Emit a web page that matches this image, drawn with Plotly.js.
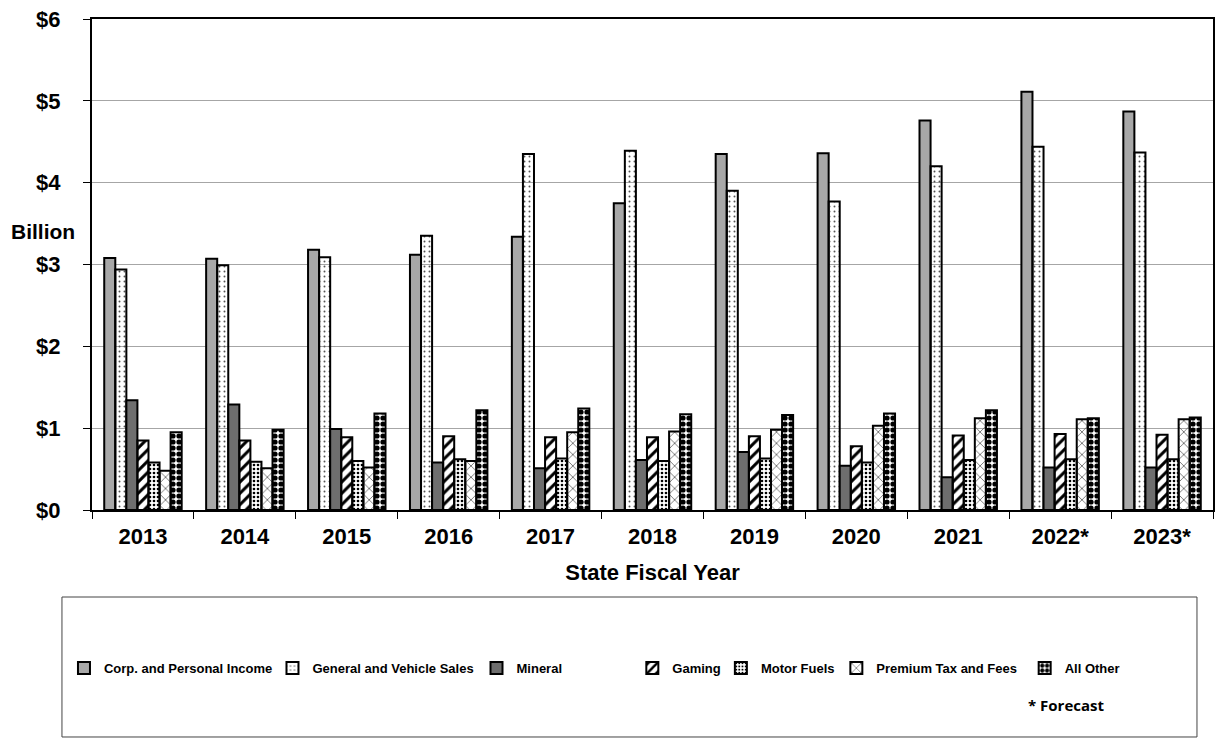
<!DOCTYPE html>
<html>
<head>
<meta charset="utf-8">
<script src="https://cdn.plot.ly/plotly-3.0.1.min.js"></script>
<style>html,body{margin:0;padding:0;background:#fff;}#chart{width:1217px;height:740px;}</style>
</head>
<body>
<div id="chart"></div>
<script>
const years = ["2013","2014","2015","2016","2017","2018","2019","2020","2021","2022*","2023*"];
const corpIncome   = [3.08, 3.07, 3.18, 3.12, 3.34, 3.75, 4.35, 4.36, 4.76, 5.11, 4.87];
const salesTax     = [2.94, 2.99, 3.09, 3.35, 4.35, 4.39, 3.90, 3.77, 4.20, 4.44, 4.37];
const mineral      = [1.34, 1.29, 0.99, 0.58, 0.51, 0.61, 0.71, 0.54, 0.40, 0.52, 0.52];
const gaming       = [0.85, 0.85, 0.89, 0.90, 0.89, 0.89, 0.90, 0.78, 0.91, 0.93, 0.92];
const motorFuels   = [0.58, 0.59, 0.60, 0.62, 0.63, 0.60, 0.63, 0.58, 0.61, 0.62, 0.62];
const premiumTax   = [0.48, 0.51, 0.52, 0.60, 0.95, 0.96, 0.98, 1.03, 1.12, 1.11, 1.11];
const allOther     = [0.95, 0.98, 1.18, 1.22, 1.24, 1.17, 1.16, 1.18, 1.22, 1.12, 1.13];
const seriesNames  = ["Corp. and Personal Income","General and Vehicle Sales","Mineral","Gaming","Motor Fuels","Premium Tax and Fees","All Other"];
const yTickVals    = [0,1,2,3,4,5,6];
const yTickText    = ["$0","$1","$2","$3","$4","$5","$6"];

const seriesData = [corpIncome, salesTax, mineral, gaming, motorFuels, premiumTax, allOther];
const styles = [
  {color:"#a8a8a8", pattern:{shape:""}},
  {color:"#ffffff", pattern:{shape:".", fgcolor:"#555", size:5, solidity:0.12}},
  {color:"#6e6e6e", pattern:{shape:""}},
  {color:"#ffffff", pattern:{shape:"/", fgcolor:"#000", size:8, solidity:0.38}},
  {color:"#ffffff", pattern:{shape:".", fgcolor:"#000", size:4, solidity:0.35}},
  {color:"#ffffff", pattern:{shape:"x", fgcolor:"#555", size:8, solidity:0.18}},
  {color:"#ffffff", pattern:{shape:".", fgcolor:"#000", size:6, solidity:0.6}}
];
// legend x positions (paper), one legend per series
const legendX = [-0.025, 0.161, 0.343, 0.482, 0.561, 0.664, 0.832];
const legendKeys = ["legend","legend2","legend3","legend4","legend5","legend6","legend7"];

const traces = seriesData.map((vals,i)=>({
  type:"bar",
  name: seriesNames[i],
  x: years,
  y: vals,
  legend: legendKeys[i],
  showlegend: true,
  marker:{color: styles[i].color, pattern: styles[i].pattern, line:{color:"#000", width:2}},
  hoverinfo:"x+y+name"
}));

const F = "Liberation Sans, Arial, sans-serif";
const layout = {
  width:1217, height:740,
  margin:{l:92, r:4, t:19, b:230},
  showlegend:true,
  paper_bgcolor:"#fff", plot_bgcolor:"#fff",
  barmode:"group", bargap:0.24, bargroupgap:0,
  font:{family:F, color:"#000"},
  xaxis:{
    type:"category",
    showline:true, linecolor:"#000", linewidth:2, mirror:true,
    ticks:"outside", ticklen:7, tickcolor:"#000", tickwidth:1, tickson:"boundaries",
    ticklabelstandoff:6,
    tickfont:{family:F, size:22, weight:"bold"},
    title:{text:"State Fiscal Year", font:{family:F, size:22, weight:"bold"}, standoff:16},
    showgrid:false
  },
  yaxis:{
    range:[0,6], tickvals:yTickVals, ticktext:yTickText,
    showline:true, linecolor:"#000", linewidth:2, mirror:true,
    ticks:"outside", ticklen:7, tickcolor:"#000", tickwidth:1,
    ticklabelstandoff:18,
    tickfont:{family:F, size:22, weight:"bold"},
    showgrid:true, gridcolor:"#a6a6a6", gridwidth:1, zeroline:false
  },
  shapes:[
    {type:"rect", xref:"paper", yref:"paper", x0:-0.0268, x1:0.9857, y0:-0.1772, y1:-0.4623,
     line:{color:"#444", width:1}, fillcolor:"rgba(0,0,0,0)"}
  ],
  annotations:[
    {text:"Billion", xref:"paper", yref:"paper", x:-0.074, y:0.567, xanchor:"left", yanchor:"middle",
     showarrow:false, font:{family:F, size:21, weight:"bold"}},
    {text:"* Forecast", xref:"paper", yref:"paper", x:0.869, y:-0.398, xanchor:"center", yanchor:"middle",
     showarrow:false, font:{family:"Open Sans, sans-serif", size:15, weight:"bold"}}
  ]
};
legendKeys.forEach((k,i)=>{
  layout[k] = {
    orientation:"h", x:legendX[i], xanchor:"left", y:-0.322, yanchor:"middle",
    font:{family:F, size:13, weight:"bold"}, bgcolor:"rgba(0,0,0,0)", borderwidth:0,
    itemwidth:30, visible:true
  };
});

Plotly.newPlot("chart", traces, layout, {displayModeBar:false, staticPlot:true});
</script>
</body>
</html>
